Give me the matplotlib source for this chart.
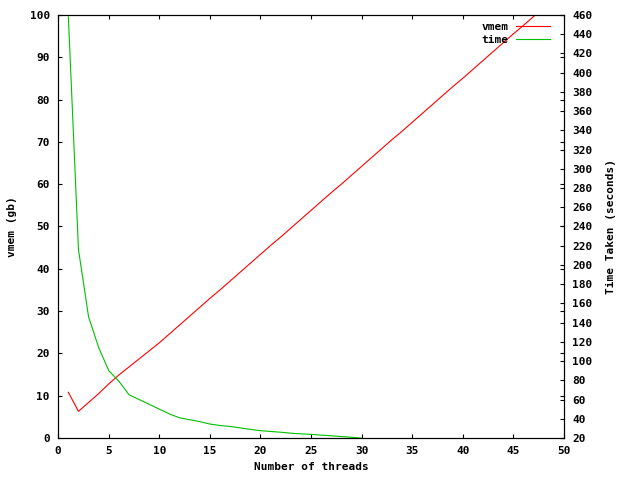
import matplotlib
matplotlib.use('Agg')
import matplotlib.pyplot as plt

# data
threads = list(range(1, 49))
vmem = [10.8, 6.3, 8.4, 10.5, 12.8, 14.9, 16.8, 18.7, 20.6, 22.5,
        24.6, 26.7, 28.8, 30.9, 33.0, 35.0, 37.1, 39.2, 41.3, 43.4,
        45.5, 47.5, 49.6, 51.7, 53.8, 55.9, 58.0, 60.0, 62.1, 64.2,
        66.3, 68.4, 70.5, 72.5, 74.6, 76.7, 78.8, 80.9, 83.0, 85.0,
        87.1, 89.2, 91.3, 93.4, 95.5, 97.5, 99.6, 101.7]
time_threads = list(range(1, 31))
time_taken = [458, 216, 146, 114, 90, 79, 65, 60, 55, 50,
              45, 41, 39, 37, 34.5, 33, 32, 30.5, 29, 27.6,
              26.8, 26, 25, 24.3, 23.8, 23, 22.3, 21.5, 20.8, 19.8]

plt.rcParams['font.family'] = 'DejaVu Sans Mono'
plt.rcParams['font.weight'] = 'bold'
plt.rcParams['axes.labelweight'] = 'bold'
plt.rcParams['font.size'] = 8

fig = plt.figure(figsize=(6.4, 4.8), dpi=100)
ax = fig.add_axes([0.091, 0.0875, 0.790, 0.8815])
ax2 = ax.twinx()

l1, = ax.plot(threads, vmem, color='#ff0000', lw=0.8, label='vmem')
l2, = ax2.plot(time_threads, time_taken, color='#00c000', lw=0.8, label='time')

ax.set_xlim(0, 50)
ax.set_ylim(0, 100)
ax2.set_ylim(20, 460)
ax.set_xticks(range(0, 51, 5))
ax.set_yticks(range(0, 101, 10))
ax2.set_yticks(range(20, 461, 20))

ax.tick_params(direction='in', length=3, width=0.8, top=True, right=True, pad=6)
ax2.tick_params(direction='in', length=3, width=0.8, pad=6)
for a in (ax, ax2):
    for s in a.spines.values():
        s.set_linewidth(0.8)
        s.set_color('black')

ax.set_xlabel('Number of threads', labelpad=4)
ax.set_ylabel('vmem (gb)', labelpad=9)
ax2.set_ylabel('Time Taken (seconds)', labelpad=10)

ax2.legend([l1, l2], ['vmem', 'time'], loc='upper right', frameon=False,
           markerfirst=False, handlelength=3.0, handletextpad=0.7,
           labelspacing=0.3, borderaxespad=0, bbox_to_anchor=(0.981, 0.994))

fig.savefig('out.png', dpi=100)
